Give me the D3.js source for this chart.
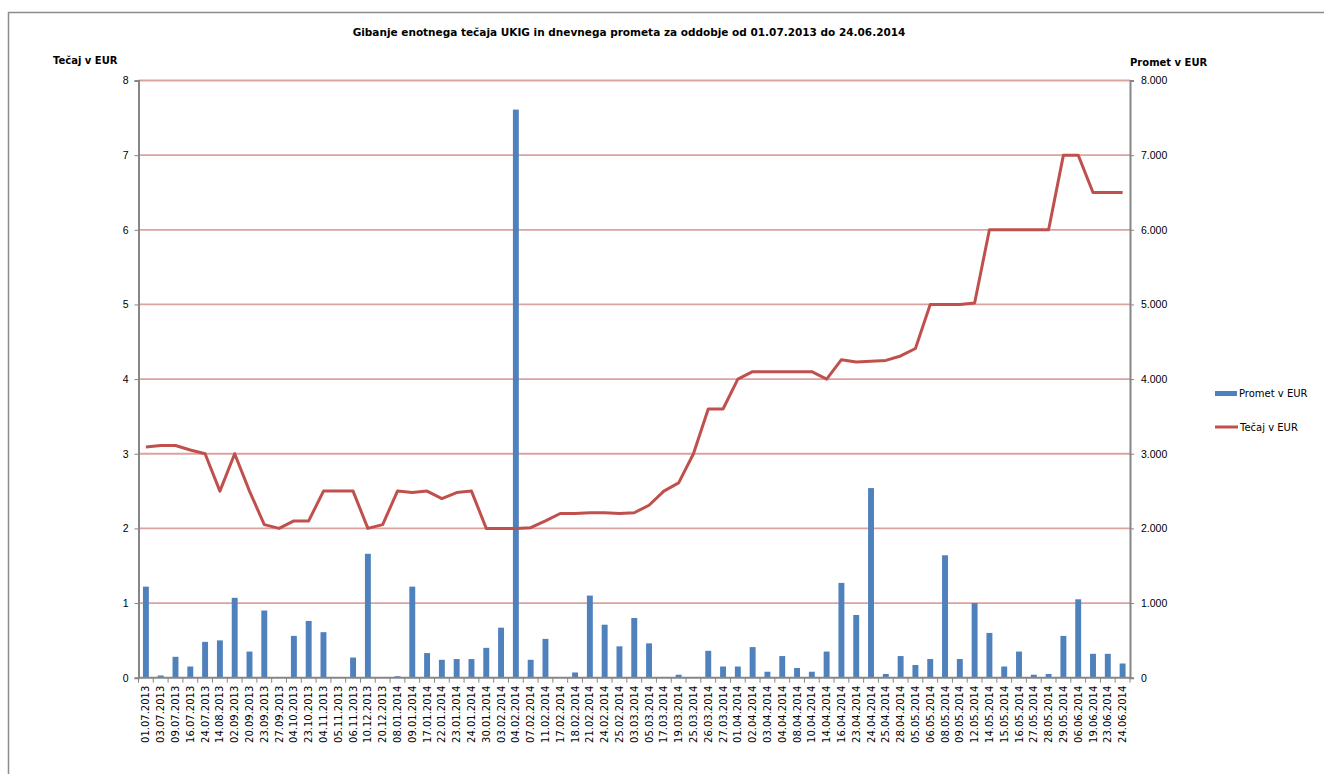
<!DOCTYPE html>
<html>
<head>
<meta charset="utf-8">
<script src="https://cdn.jsdelivr.net/npm/d3@7"></script>
<style>
  body { margin: 0; background: #fff; }
  svg { display: block; font-family: "DejaVu Sans", Verdana, sans-serif; }
</style>
</head>
<body>
<div id="chart"></div>
<script>
// Data
const dates = [
  '01.07.2013', '03.07.2013', '09.07.2013', '16.07.2013', '24.07.2013', '14.08.2013', '02.09.2013', '20.09.2013', '23.09.2013', '27.09.2013',
  '04.10.2013', '23.10.2013', '04.11.2013', '05.11.2013', '06.11.2013', '10.12.2013', '20.12.2013', '08.01.2014', '09.01.2014', '17.01.2014',
  '22.01.2014', '23.01.2014', '24.01.2014', '30.01.2014', '03.02.2014', '04.02.2014', '07.02.2014', '11.02.2014', '17.02.2014', '18.02.2014',
  '21.02.2014', '24.02.2014', '25.02.2014', '03.03.2014', '05.03.2014', '17.03.2014', '19.03.2014', '25.03.2014', '26.03.2014', '27.03.2014',
  '01.04.2014', '02.04.2014', '03.04.2014', '04.04.2014', '08.04.2014', '10.04.2014', '14.04.2014', '16.04.2014', '23.04.2014', '24.04.2014',
  '25.04.2014', '28.04.2014', '05.05.2014', '06.05.2014', '08.05.2014', '09.05.2014', '12.05.2014', '14.05.2014', '15.05.2014', '16.05.2014',
  '27.05.2014', '28.05.2014', '29.05.2014', '06.06.2014', '19.06.2014', '23.06.2014', '24.06.2014'
];

// Promet v EUR (bars, right axis)
const promet = [
  1220, 30, 280, 150, 480, 500, 1070, 350, 900, 5,
  560, 760, 610, 5, 270, 1660, 5, 20, 1220, 330,
  240, 250, 250, 400, 670, 7610, 240, 520, 5, 70,
  1100, 710, 420, 800, 460, 10, 40, 5, 360, 150,
  150, 410, 80, 290, 130, 80, 350, 1270, 840, 2540,
  50, 290, 170, 250, 1640, 250, 1000, 600, 150, 350,
  40, 50, 560, 1050, 320, 320, 190
];

// Tečaj v EUR (line, left axis)
const tecaj = [
  3.09, 3.11, 3.11, 3.05, 3.0, 2.5, 3.0, 2.5, 2.05, 2.0,
  2.1, 2.1, 2.5, 2.5, 2.5, 2.0, 2.05, 2.5, 2.48, 2.5,
  2.4, 2.48, 2.5, 2.0, 2.0, 2.0, 2.01, 2.1, 2.2, 2.2,
  2.21, 2.21, 2.2, 2.21, 2.31, 2.5, 2.61, 3.0, 3.6, 3.6,
  4.0, 4.1, 4.1, 4.1, 4.1, 4.1, 4.0, 4.26, 4.23, 4.24,
  4.25, 4.31, 4.41, 5.0, 5.0, 5.0, 5.02, 6.0, 6.0, 6.0,
  6.0, 6.0, 7.0, 7.0, 6.5, 6.5, 6.5
];

const leftTicks = [0, 1, 2, 3, 4, 5, 6, 7, 8];
const rightTicks = [0, 1000, 2000, 3000, 4000, 5000, 6000, 7000, 8000];

const title = 'Gibanje enotnega tečaja UKIG in dnevnega prometa za oddobje od 01.07.2013 do 24.06.2014';

const width = 1324, height = 774;
const margin = { top: 80.5, right: 194, bottom: 96.3, left: 138.5 };
const innerW = width - margin.left - margin.right;
const innerH = height - margin.top - margin.bottom;

const svg = d3.select('#chart')
  .append('svg')
  .attr('width', width)
  .attr('height', height);

// outer chart frame (runs off the page right and bottom)
svg.append('rect')
  .attr('x', 8.5).attr('y', 12.5)
  .attr('width', 1400).attr('height', 900)
  .attr('fill', 'none')
  .attr('stroke', '#8c8c8c')
  .attr('stroke-width', 1.5);

const g = svg.append('g')
  .attr('transform', `translate(${margin.left},${margin.top})`);

// Scales
const x = d3.scaleBand().domain(dates).range([0, innerW]).padding(0);
const yL = d3.scaleLinear().domain([0, 8]).range([innerH, 0]);
const yR = d3.scaleLinear().domain([0, 8000]).range([innerH, 0]);

const locale = d3.formatLocale({ decimal: ',', thousands: '.', grouping: [3], currency: ['', ' €'] });
const fmtR = locale.format(',.0f');

// Gridlines
g.append('g')
  .selectAll('line')
  .data(leftTicks.filter(d => d > 0))
  .enter()
  .append('line')
  .attr('x1', 0).attr('x2', innerW)
  .attr('y1', d => yL(d)).attr('y2', d => yL(d))
  .attr('stroke', '#dba2a0')
  .attr('stroke-width', 1.8);

// Bars
const barW = x.bandwidth() * 0.4;
g.selectAll('rect.bar')
  .data(dates)
  .enter()
  .append('rect')
  .attr('class', 'bar')
  .attr('x', d => x(d) + (x.bandwidth() - barW) / 2)
  .attr('y', (d, i) => yR(promet[i]))
  .attr('width', barW)
  .attr('height', (d, i) => innerH - yR(promet[i]))
  .attr('fill', '#4f81bd');

// Line
const line = d3.line()
  .x((d, i) => x(dates[i]) + x.bandwidth() / 2)
  .y(d => yL(d));

g.append('path')
  .datum(tecaj)
  .attr('d', line)
  .attr('fill', 'none')
  .attr('stroke', '#c0504d')
  .attr('stroke-width', 3)
  .attr('stroke-linejoin', 'round');

// Left axis
const leftAxis = g.append('g')
  .call(d3.axisLeft(yL).tickValues(leftTicks).tickSize(4).tickPadding(6).tickFormat(d3.format('d')));
leftAxis.select('.domain').attr('stroke', '#868686').attr('stroke-width', 2);
leftAxis.selectAll('.tick line').attr('stroke', '#868686');
leftAxis.selectAll('text').attr('font-size', 10.5).attr('fill', '#000');

// Right axis
const rightAxis = g.append('g')
  .attr('transform', `translate(${innerW},0)`)
  .call(d3.axisRight(yR).tickValues(rightTicks).tickSize(4).tickPadding(7).tickFormat(fmtR));
rightAxis.select('.domain').attr('stroke', '#868686').attr('stroke-width', 2);
rightAxis.selectAll('.tick line').attr('stroke', '#868686');
rightAxis.selectAll('text').attr('font-size', 10.5).attr('fill', '#000');

// Bottom axis (ticks between categories like Excel)
const bottom = g.append('g').attr('transform', `translate(0,${innerH})`);
bottom.append('line')
  .attr('x1', 0).attr('x2', innerW)
  .attr('stroke', '#868686').attr('stroke-width', 2);
bottom.selectAll('line.tk')
  .data(dates.concat(['end']))
  .enter()
  .append('line')
  .attr('class', 'tk')
  .attr('x1', (d, i) => i * x.step()).attr('x2', (d, i) => i * x.step())
  .attr('y1', 0).attr('y2', 5)
  .attr('stroke', '#868686');
bottom.selectAll('text')
  .data(dates)
  .enter()
  .append('text')
  .attr('transform', d => `translate(${x(d) + x.bandwidth() / 2 + 3.5},8) rotate(-90)`)
  .attr('text-anchor', 'end')
  .attr('font-size', 10)
  .attr('fill', '#000')
  .text(d => d);

// Titles
svg.append('text')
  .attr('x', 629).attr('y', 36)
  .attr('text-anchor', 'middle')
  .attr('font-size', 10.5)
  .attr('font-weight', 'bold')
  .text(title);

svg.append('text')
  .attr('x', 53).attr('y', 64)
  .attr('font-size', 10)
  .attr('font-weight', 'bold')
  .text('Tečaj v EUR');

svg.append('text')
  .attr('x', 1130).attr('y', 66)
  .attr('font-size', 10)
  .attr('font-weight', 'bold')
  .text('Promet v EUR');

// Legend
const legend = svg.append('g').attr('transform', 'translate(1215,0)');
legend.append('rect')
  .attr('x', 0).attr('y', 391).attr('width', 22).attr('height', 5)
  .attr('fill', '#4f81bd');
legend.append('text')
  .attr('x', 24).attr('y', 397)
  .attr('font-size', 10)
  .text('Promet v EUR');
legend.append('line')
  .attr('x1', 0).attr('x2', 23).attr('y1', 427).attr('y2', 427)
  .attr('stroke', '#c0504d').attr('stroke-width', 3);
legend.append('text')
  .attr('x', 25).attr('y', 431)
  .attr('font-size', 10)
  .text('Tečaj v EUR');
</script>
</body>
</html>
